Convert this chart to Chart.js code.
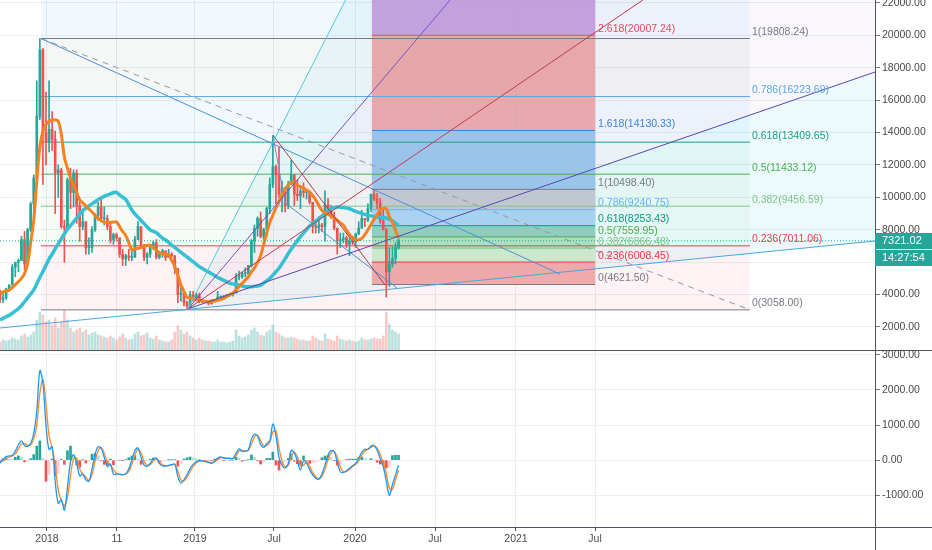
<!DOCTYPE html>
<html><head><meta charset="utf-8">
<script src="https://cdn.jsdelivr.net/npm/chart.js@4.4.1/dist/chart.umd.min.js"></script>
<style>
html,body{margin:0;padding:0;background:#fff;}
#wrap{position:relative;width:932px;height:550px;overflow:hidden;background:#fff;}
#top{position:absolute;left:0;top:0;width:932px;height:350px;}
#bot{position:absolute;left:0;top:350px;width:932px;height:200px;}
</style></head><body>
<div id="wrap"><canvas id="top" width="932" height="350"></canvas><canvas id="bot" width="932" height="200"></canvas></div>
<script>
// ---------- DATA (weekly slots, slot 0 = mid Sep 2017) ----------
const slotTicks = [15.33, 38.16, 63.6, 89.37, 115.8, 141.9, 168.3, 194.1];
const slotTickLabels = ['2018','11','2019','Jul','2020','Jul','2021','Jul'];
const priceTicks = [2000,4000,6000,8000,10000,12000,14000,16000,18000,20000,22000];
const macdTicks = [-1000,0,1000,2000,3000];

const candleOpen = [4200,3700,3800,4350,4600,5700,6000,6100,7400,5900,
8000,9600,11200,15000,19100,14000,13400,14200,13600,11500,
11700,8200,8100,11100,10300,11500,9500,8200,8500,6900,
6900,8000,8900,9400,8700,8700,8200,7400,7700,7500,
6500,6200,6400,6300,6300,7400,8200,7000,6300,6500,
6900,7200,6300,6500,6700,6300,6500,6400,5600,4000,
4100,3500,3300,4000,3800,4000,3600,3550,3550,3450,
3650,3650,3850,3850,3900,4000,4000,4100,5100,5100,
5300,5300,5800,7300,8100,8700,7600,8000,9300,10800,
11900,11400,10200,10600,9500,10800,11400,10200,10100,10400,
10300,10300,9700,8200,8150,8300,8200,9550,9200,8800,
8100,7300,7400,7500,7100,7300,7250,7750,8100,8700,
8600,9300,10200,9900,9650,8550,8000,5400,5900,6250,
6900];
const candleHigh = [4300,4100,4400,4600,5850,6000,6200,7600,7900,8100,
9700,11400,17200,19800,19200,16500,17200,15300,14100,12000,
11800,8600,11200,11800,11700,11700,9900,9200,8500,7500,
8200,9000,9700,9900,9400,8900,8500,7800,7800,7500,
6800,6500,6800,6700,7600,8500,8200,7100,6600,6900,
7300,7400,6600,6800,6700,6800,6600,6400,5600,4400,
4100,3600,4200,4200,4100,4100,3700,3600,3600,3700,
3700,4200,3900,3950,4000,4100,4150,5300,5450,5400,
5650,5800,7400,8300,8800,9100,8100,9400,11200,13800,
12000,13100,11000,10600,11000,12300,11400,11100,10600,10900,
10500,10300,9700,8500,8800,8400,10400,9950,9500,9100,
8100,7800,7800,7600,7500,7600,7800,8500,9200,8700,
9600,10200,10500,10250,9950,9200,8100,6900,6950,7200,
7450];
const candleLow = [3500,3500,3700,4200,4600,5100,5400,6100,5500,5800,
7900,8800,11100,14800,10800,12000,12800,12900,9000,10000,
8100,6000,8000,9300,9400,8400,7300,8000,6500,6500,
6600,7900,8600,8600,8300,8000,7200,7100,7300,6300,
5800,5800,6100,6100,6300,7400,6900,6100,5900,6300,
6800,6200,6200,6300,6100,6300,6300,5300,3500,3600,
3300,3150,3200,3600,3700,3500,3500,3500,3350,3400,
3550,3650,3700,3700,3800,3900,3900,4100,4900,5000,
5100,5200,5700,6600,7600,7500,7400,7600,9000,10600,
9600,10000,9100,9100,9300,10800,9500,9800,9300,10000,
9900,9600,7800,7800,7800,7900,7300,8900,8700,8000,
6500,6900,7200,6900,6400,7100,6900,7700,8100,8200,
8500,9100,9800,9300,8400,8000,3850,4500,5700,5900,
6800];
const candleClose = [3700,3800,4350,4600,5700,6000,6100,7400,5900,8000,
9600,11200,15000,19100,14000,13400,14200,13600,11500,11700,
8200,8100,11100,10300,11500,9500,8200,8500,6900,6900,
8000,8900,9400,8700,8700,8200,7400,7700,7500,6500,
6200,6400,6300,6300,7400,8200,7000,6300,6500,6900,
7200,6300,6500,6700,6300,6500,6400,5600,4000,4100,
3500,3300,4000,3800,4000,3600,3550,3550,3450,3650,
3650,3850,3850,3900,4000,4000,4100,5100,5100,5300,
5300,5800,7300,8100,8700,7600,8000,9300,10800,11900,
11400,10200,10600,9500,10800,11400,10200,10100,10400,10300,
10300,9700,8200,8150,8300,8200,9550,9200,8800,8100,
7300,7400,7500,7100,7300,7250,7750,8100,8700,8600,
9300,10200,9900,9650,8550,8000,5400,5900,6250,6900,
7321.02];
const volume = [8,10,9,10,12,11,10,14,16,13,
15,18,30,38,35,28,30,25,32,22,
28,40,30,22,18,20,22,18,20,15,
17,18,15,14,13,12,14,12,10,13,
16,12,10,11,16,18,14,15,17,12,
11,14,10,9,8,8,10,18,24,20,
16,18,14,12,10,12,10,9,9,8,
8,10,8,8,7,8,9,20,14,12,
13,15,20,22,18,15,14,18,20,25,
18,16,14,12,12,13,12,11,10,10,
9,9,14,12,10,9,16,11,10,9,
14,11,10,9,10,9,8,9,12,10,
10,11,12,11,11,14,38,26,20,18,
16];
const maFast = [4100,4160,4220,4280,4450,4620,4800,5000,5300,5900,
7200,8600,11000,13100,14100,14500,14680,14780,14780,14700,
13900,12500,11800,11200,10750,10300,9860,9660,9480,9290,
9100,8900,8700,8560,8470,8420,8450,8480,8480,8200,
7900,7650,7200,6780,6820,6860,6900,6980,7030,7050,
6900,6740,6600,6530,6500,6460,6100,5750,5200,4600,
4200,3850,3800,3740,3680,3650,3620,3570,3560,3580,
3610,3650,3690,3780,3880,3990,4100,4300,4500,4700,
4900,5100,5400,5650,5980,6400,7100,7800,8450,8900,
9350,9740,10200,10500,10750,10930,10880,10750,10660,10570,
10450,10340,10100,9830,9500,9200,9050,8960,8860,8730,
8590,8430,8280,7990,7700,7520,7380,7390,7470,7700,
8000,8330,8650,8930,9220,9320,9300,8800,8480,7950,
7500];
const maSlow = [2430,2530,2630,2720,2850,2990,3130,3320,3560,3800,
4040,4290,4670,5060,5420,5810,6190,6500,6830,7130,
7440,7740,8040,8260,8490,8720,8950,9190,9330,9470,
9600,9730,9860,9980,10060,10140,10210,10290,10310,10150,
10010,9880,9550,9230,8980,8780,8580,8380,8180,7990,
7900,7820,7650,7490,7370,7220,7060,6910,6760,6610,
6460,6320,6170,6030,5880,5730,5610,5500,5390,5290,
5180,5060,4970,4880,4790,4700,4660,4620,4580,4530,
4490,4480,4490,4510,4530,4580,4710,4850,4990,5200,
5410,5630,5910,6210,6520,6810,7070,7330,7580,7800,
8010,8230,8380,8540,8690,8850,9020,9190,9320,9370,
9410,9390,9370,9350,9300,9220,9130,9070,9010,8950,
8900,8860,8820,8790,8770,8750,8730,8640,8540,8410,
8290];
const macdLine = [-90,20,100,120,135,260,440,550,420,390,
480,760,1400,2550,2200,1000,300,380,-600,-1230,
-1130,-1420,-780,-50,160,-80,-450,-390,-560,-600,
-250,160,380,340,80,-180,-110,-400,-400,-400,
-420,-390,-250,0,270,350,80,-140,-170,-90,
30,60,-100,-160,-165,-150,-130,-110,-470,-650,
-560,-420,-240,-120,-40,-10,-20,-40,-60,-90,
-20,60,90,60,50,50,50,200,320,250,
260,290,600,740,690,450,360,470,560,1030,
700,80,-150,-220,-100,280,200,-20,-280,-20,
-80,-270,-420,-520,-540,-390,-140,150,270,240,
-60,-330,-350,-300,-230,-160,-90,50,230,310,
310,400,420,280,50,-180,-600,-1000,-700,-420,
-140];
const macdSignal = [-40,-20,40,90,120,180,320,460,470,420,
440,600,1000,1900,2300,1600,700,350,-150,-850,
-1150,-1300,-1050,-450,40,60,-250,-400,-480,-580,
-420,-30,260,360,200,-50,-140,-270,-380,-400,
-410,-400,-320,-120,140,310,200,-40,-150,-120,
-30,40,-30,-130,-160,-155,-140,-120,-300,-560,
-590,-490,-330,-180,-80,-30,-20,-30,-50,-75,
-50,20,70,70,55,50,50,120,260,280,
260,280,450,660,710,560,410,420,510,800,
840,360,-30,-180,-150,100,230,80,-160,-140,
-60,-180,-350,-470,-530,-460,-260,10,200,250,
80,-200,-330,-320,-260,-190,-120,-20,140,260,
310,360,410,340,160,-60,-380,-800,-830,-560,
-280];
const macdHist = [-50,40,60,30,15,80,120,90,-50,-30,
40,160,400,550,50,-600,-400,30,-450,-380,
20,-120,270,400,120,-140,-200,10,-80,-20,
170,190,120,-20,-120,-130,30,-130,-20,0,
-10,10,70,120,130,40,-120,-100,-20,30,
60,20,-70,-30,-5,5,10,10,-170,-90,
30,70,90,60,40,20,0,-10,-10,-15,
30,40,20,-10,-5,0,0,80,60,-30,
0,10,150,80,-20,-110,-50,50,50,230,
-140,-280,-120,-40,50,180,-30,-100,-120,120,
-20,-90,-70,-50,-10,70,120,140,70,-10,
-140,-130,-20,20,30,30,30,70,90,50,
0,40,10,-60,-110,-120,-220,-200,130,140,
140];

// drawings (anchors in slot / price units)
const fibARatios = [1, 0.786, 0.618, 0.5, 0.382, 0.236, 0];
const fibAPrices = [19808.24, 16223.69, 13409.65, 11433.12, 9456.59, 7011.06, 3058.00];
const fibASpan = [13.37, 244.6];
const fibBRatios = [3.618, 2.618, 1.618, 1, 0.786, 0.618, 0.5, 0.382, 0.236, 0];
const fibBPrices = [25884.11, 20007.24, 14130.33, 10498.40, 9240.75, 8253.43, 7559.95, 6866.48, 6008.45, 4621.50];
const fibBSpan = [121.3, 194.1];
const fanOrigin = [61.3, 3120];
const fanEnds = [[112.7, 22185], [146.8, 22185], [209.7, 22185], [285.4, 17740]];
const trendFrom = [[13.37, 19808.24], [13.37, 19808.24], [0, 1937], [89.0, 13852], [89.0, 13852], [93.0, 9654]];
const trendTo   = [[182.6, 5271], [244.6, 3058], [285.4, 7308], [125.6, 4592], [93.0, 9654], [129.5, 4407]];
const countdownLabel = '14:27:54';

// ---------- STYLE ----------
const FONT = '"Liberation Sans", Arial, sans-serif';
const xMin = 0, xMax = 285.4;
const priceMin = 580, priceMax = 22185;
const macdMin = -1905, macdMax = 3140;
const UP = '#26a69a', DOWN = '#ef5350';
const fibAColors = ['#787b86', '#5aa6e8', '#22a07f', '#4caf50', '#81c784', '#e5414b', '#787b86'];
const fibABandColors = ['rgba(33,150,243,0.06)', 'rgba(120,123,134,0.07)', 'rgba(33,150,243,0.06)', 'rgba(8,153,129,0.06)', 'rgba(76,175,80,0.06)', 'rgba(129,199,132,0.07)', 'rgba(242,54,69,0.06)'];
const fibBColors = ['#9c6ade', '#e0505a', '#3d85d8', '#787b86', '#64b5f6', '#089981', '#4caf50', '#81c784', '#f23645', '#787b86'];
const fibBBandColors = ['rgba(186,140,215,0.78)', 'rgba(229,150,152,0.8)', 'rgba(140,188,234,0.85)', 'rgba(185,190,202,0.85)', 'rgba(156,204,238,0.85)', 'rgba(128,200,182,0.85)', 'rgba(160,214,178,0.8)', 'rgba(196,230,196,0.85)', 'rgba(238,156,158,0.85)'];
const fanColors = ['#56c8d8', '#7652c6', '#c23a4f', '#5748b5'];
const fanFillColors = ['rgba(0,188,212,0.06)', 'rgba(103,58,183,0.05)', 'rgba(103,58,183,0.04)', 'rgba(0,188,212,0.07)'];
const trendColors = ['#4a90d9', '#9598a1', '#48a8e0', '#b03a48', '#6a9ad0', '#4a90d9'];
const trendDash = [[], [6, 5], [], [], [], []];
const trendWidth = [1, 1, 1.2, 1, 1, 1];

Chart.defaults.font.family = FONT;
Chart.defaults.font.size = 10.5;

const P = (a) => ({x: a[0], y: a[1]});
function rect(x0, x1, y0, y1) { return [{x:x0,y:y0},{x:x1,y:y0},{x:x1,y:y1},{x:x0,y:y1},{x:x0,y:y0}]; }
function shapeDS(data, color, order) {
  return {type:'line', data, fill:'shape', backgroundColor:color, borderColor:'rgba(0,0,0,0)', borderWidth:0, pointRadius:0, tension:0, order, yAxisID:'y'};
}
function lineDS(data, color, width, dash, order) {
  return {type:'line', data, fill:false, borderColor:color, borderWidth:width, borderDash:dash || [], pointRadius:0, tension:0, order, yAxisID:'y'};
}

const slots = candleOpen.map((_, i) => i);
const isUp = slots.map(i => candleClose[i] >= candleOpen[i]);
const lastClose = candleClose[candleClose.length - 1];

const topDatasets = [];
const fibAEdges = [priceMax, ...fibAPrices];
for (let i = 0; i < fibAEdges.length - 1; i++) {
  topDatasets.push(shapeDS(rect(fibASpan[0], fibASpan[1], fibAEdges[i], fibAEdges[i+1]), fibABandColors[i], 100));
}
topDatasets.push(shapeDS([P(fanOrigin), P(fanEnds[0]), P(fanEnds[1]), P(fanOrigin)], fanFillColors[0], 99));
topDatasets.push(shapeDS([P(fanOrigin), P(fanEnds[1]), P(fanEnds[2]), P(fanOrigin)], fanFillColors[1], 99));
topDatasets.push(shapeDS([P(fanOrigin), P(fanEnds[2]), {x:fanEnds[3][0], y:fanEnds[2][1]}, P(fanEnds[3]), P(fanOrigin)], fanFillColors[2], 99));
topDatasets.push(shapeDS([P(fanOrigin), P(fanEnds[3]), P(trendTo[2]), P(fanOrigin)], fanFillColors[3], 99));
for (let i = 0; i < fibBPrices.length - 1; i++) {
  topDatasets.push(shapeDS(rect(fibBSpan[0], fibBSpan[1], fibBPrices[i], fibBPrices[i+1]), fibBBandColors[i], 98));
}
topDatasets.push({type:'bar', yAxisID:'yVol', order:90, grouped:false, barThickness:2, borderWidth:0,
  data: slots.map(i => ({x:i, y:volume[i]})),
  backgroundColor: slots.map(i => isUp[i] ? 'rgba(38,166,154,0.32)' : 'rgba(239,83,80,0.32)')});
fibAPrices.forEach((p, i) => topDatasets.push(lineDS([{x:fibASpan[0], y:p}, {x:fibASpan[1], y:p}], fibAColors[i], 1, [], 60)));
fibBPrices.forEach((p, i) => topDatasets.push(lineDS([{x:fibBSpan[0], y:p}, {x:fibBSpan[1], y:p}], fibBColors[i], 1, [], 60)));
topDatasets.push({type:'bar', yAxisID:'y', order:40, grouped:false, barThickness:1, borderWidth:0, minBarLength:1,
  data: slots.map(i => ({x:i, y:[candleLow[i], candleHigh[i]]})),
  backgroundColor: slots.map(i => isUp[i] ? UP : DOWN)});
topDatasets.push({type:'bar', yAxisID:'y', order:39, grouped:false, barThickness:2, borderWidth:0, minBarLength:1,
  data: slots.map(i => ({x:i, y:[candleOpen[i], candleClose[i]]})),
  backgroundColor: slots.map(i => isUp[i] ? UP : DOWN)});
topDatasets.push({type:'line', yAxisID:'y', order:30, data: slots.map(i => ({x:i, y:maSlow[i]})), borderColor:'#35c0d4', borderWidth:3.5, pointRadius:0, tension:0.4, fill:false});
topDatasets.push({type:'line', yAxisID:'y', order:29, data: slots.map(i => ({x:i, y:maFast[i]})), borderColor:'#f5811f', borderWidth:3, pointRadius:0, tension:0.4, fill:false});
fanEnds.forEach((e, i) => topDatasets.push(lineDS([P(fanOrigin), P(e)], fanColors[i], 1, [], 20)));
trendFrom.forEach((f, i) => topDatasets.push(lineDS([P(f), P(trendTo[i])], trendColors[i], trendWidth[i], trendDash[i], 20)));
topDatasets.push(lineDS([{x:xMin, y:lastClose}, {x:xMax, y:lastClose}], '#26a69a', 1, [1, 2], 5));

function drawFibLabels(chart, endSlot, ratios, prices, colors, dx) {
  const {ctx, scales:{x, y}} = chart;
  ctx.save();
  ctx.font = '10.5px ' + FONT;
  ctx.textAlign = 'left';
  ctx.textBaseline = 'bottom';
  ratios.forEach((r, i) => {
    const py = y.getPixelForValue(prices[i]);
    if (py < 10 || py > chart.chartArea.bottom) return;
    ctx.fillStyle = colors[i];
    ctx.fillText(r + '(' + prices[i].toFixed(2) + ')', x.getPixelForValue(endSlot) + dx, py - 1);
  });
  ctx.restore();
}

const topPlugin = {
  id: 'topDecor',
  afterDatasetsDraw(chart) {
    drawFibLabels(chart, fibASpan[1], fibARatios, fibAPrices, fibAColors, 2);
    drawFibLabels(chart, fibBSpan[1], fibBRatios, fibBPrices, fibBColors, 3);
  },
  afterDraw(chart) {
    const {ctx, chartArea:ca, scales:{y}} = chart;
    const W = chart.width;
    const py = Math.round(y.getPixelForValue(lastClose));
    ctx.save();
    ctx.fillStyle = '#26a69a';
    ctx.fillRect(ca.right, py - 8, W - ca.right, 16);
    ctx.fillRect(ca.right, py + 9, W - ca.right, 16);
    ctx.fillStyle = '#ffffff';
    ctx.font = '11px ' + FONT;
    ctx.textAlign = 'left';
    ctx.textBaseline = 'middle';
    ctx.fillText(lastClose.toFixed(2), ca.right + 7, py);
    ctx.fillText(countdownLabel, ca.right + 7, py + 17);
    ctx.restore();
  }
};

new Chart(document.getElementById('top'), {
  type: 'line',
  data: {datasets: topDatasets},
  options: {
    responsive: false, animation: false, events: [],
    layout: {padding: 0},
    plugins: {legend: {display: false}, tooltip: {enabled: false}},
    scales: {
      x: {type:'linear', min:xMin, max:xMax, offset:false,
        grid:{color:'#e9ecf1', drawTicks:false, offset:false}, border:{display:false},
        ticks:{display:false},
        afterBuildTicks: s => { s.ticks = slotTicks.map(v => ({value:v})); },
        afterFit: s => { s.height = 0; s.paddingLeft = 0; s.paddingRight = 0; }},
      y: {type:'linear', position:'right', min:priceMin, max:priceMax,
        grid:{color:'#eceff3', tickColor:'#787b86', tickLength:5},
        border:{color:'#50535e'},
        ticks:{autoSkip:false, padding:2, color:'#4a4a4a', font:{size:10.5}, callback: v => Number(v).toFixed(2)},
        afterBuildTicks: s => { s.ticks = priceTicks.map(v => ({value:v})); },
        afterFit: s => { s.width = 57; s.paddingTop = 0; s.paddingBottom = 0; }},
      yVol: {type:'linear', display:false, min:0, max:350}
    }
  },
  plugins: [topPlugin]
});

// ---------- MACD pane ----------
const histColors = macdHist.map((v, i) => {
  const p = i ? macdHist[i-1] : 0;
  return v >= 0 ? (v >= p ? '#26a69a' : '#b2dfdb') : (v < p ? '#ef5350' : '#ffcdd2');
});
const botPlugin = {
  id: 'botDecor',
  afterDraw(chart) {
    const {ctx, chartArea:ca} = chart;
    const W = chart.width, H = chart.height;
    ctx.save();
    ctx.strokeStyle = '#50535e';
    ctx.lineWidth = 1;
    ctx.beginPath();
    ctx.moveTo(0, 0.5); ctx.lineTo(W, 0.5);
    ctx.moveTo(ca.right, Math.round(ca.bottom) + 0.5); ctx.lineTo(W, Math.round(ca.bottom) + 0.5);
    ctx.moveTo(Math.round(ca.right) + 0.5, ca.bottom); ctx.lineTo(Math.round(ca.right) + 0.5, H);
    ctx.stroke();
    ctx.restore();
  }
};
new Chart(document.getElementById('bot'), {
  type: 'line',
  data: {datasets: [
    {type:'bar', order:10, grouped:false, barThickness:2, borderWidth:0,
      data: slots.map(i => ({x:i, y:macdHist[i]})), backgroundColor: histColors},
    {type:'line', order:5, data: slots.map(i => ({x:i, y:macdSignal[i]})), borderColor:'#ff8a2b', borderWidth:1.3, pointRadius:0, tension:0.35, fill:false},
    {type:'line', order:4, data: slots.map(i => ({x:i, y:macdLine[i]})), borderColor:'#2196f3', borderWidth:1.3, pointRadius:0, tension:0.35, fill:false}
  ]},
  options: {
    responsive: false, animation: false, events: [],
    layout: {padding: 0},
    plugins: {legend: {display: false}, tooltip: {enabled: false}},
    scales: {
      x: {type:'linear', min:xMin, max:xMax, offset:false,
        grid:{color:'#e9ecf1', tickColor:'#50535e', tickLength:4, offset:false},
        border:{color:'#50535e'},
        ticks:{autoSkip:false, maxRotation:0, padding:2, color:'#4a4a4a', font:{size:10.5},
          callback: (v, i) => slotTickLabels[i]},
        afterBuildTicks: s => { s.ticks = slotTicks.map(v => ({value:v})); },
        afterFit: s => { s.height = 23; s.paddingLeft = 0; s.paddingRight = 0; }},
      y: {type:'linear', position:'right', min:macdMin, max:macdMax,
        grid:{color:'#eceff3', tickColor:'#787b86', tickLength:5},
        border:{color:'#50535e'},
        ticks:{autoSkip:false, padding:2, color:'#4a4a4a', font:{size:10.5}, callback: v => Number(v).toFixed(2)},
        afterBuildTicks: s => { s.ticks = macdTicks.map(v => ({value:v})); },
        afterFit: s => { s.width = 57; s.paddingTop = 0; s.paddingBottom = 0; }}
    }
  },
  plugins: [botPlugin]
});
</script>
</body></html>
